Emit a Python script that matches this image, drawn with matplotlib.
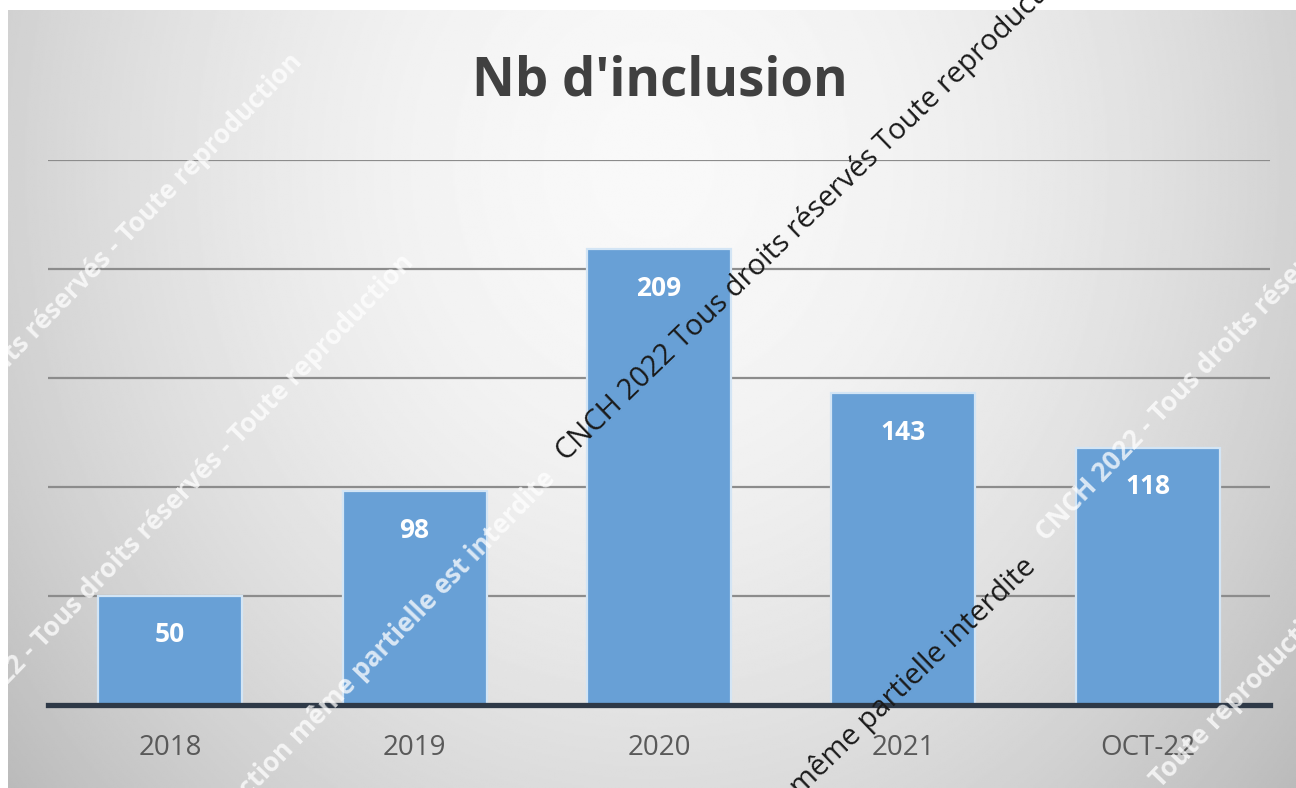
import numpy as np
import matplotlib
matplotlib.use("Agg")
import matplotlib.pyplot as plt

plt.rcParams['font.family'] = ['Open Sans', 'DejaVu Sans']

categories = ["2018", "2019", "2020", "2021", "OCT-22"]
inclusions = [50, 98, 209, 143, 118]
grid_values = [50, 100, 150, 200, 250]

W, H = 1296, 788
fig = plt.figure(figsize=(W / 100, H / 100), dpi=100)
fig.patch.set_facecolor("white")

# soft grey radial background behind the chart
bg = fig.add_axes([8 / W, 0, (W - 8) / W, (H - 10) / H], zorder=0)
yy, xx = np.mgrid[0:1:400j, 0:1:650j]
r = np.sqrt(((xx - 0.5) / 0.5) ** 2 + ((yy - 0.2) / 0.95) ** 2)
shade = np.clip(0.975 - 0.15 * r ** 1.8, 0, 1)
bg.imshow(shade, cmap="gray", vmin=0, vmax=1, aspect="auto",
          extent=[0, 1, 1, 0], interpolation="bilinear")
bg.axis("off")

ax = fig.add_axes([48 / W, (H - 705) / H, 1222 / W, 545 / H], zorder=1)
ax.patch.set_alpha(0)
x = np.arange(len(categories))

for g in grid_values:
    ax.axhline(g, color="#8c8c8c", lw=1.6, zorder=1)

ax.bar(x, inclusions, width=0.59, color="#68a0d6", edgecolor="#d3e5f5",
       linewidth=1.6, zorder=2)
ax.axhline(0, color="#2e3947", lw=3.8, zorder=3, clip_on=False)

for i, v in enumerate(inclusions):
    ax.annotate(str(v), (i, v), xytext=(0, -39), textcoords="offset pixels",
                ha="center", va="center", color="white", fontsize=19,
                fontweight="bold", zorder=4)

ax.set_xlim(-0.5, len(categories) - 0.5)
ax.set_ylim(0, 250)
ax.set_xticks(x, categories)
ax.set_yticks([])
ax.tick_params(axis="x", length=0, pad=21, labelsize=20, labelcolor="#595959")
for s in ax.spines.values():
    s.set_visible(False)

fig.text(660 / W, 1 - 82 / H, "Nb d'inclusion", ha="center", va="center",
         fontsize=38, fontweight="bold", color="#404040")


def mark(px, py, s, color, size, ha="left", alpha=1.0, weight="normal", angle=44):
    fig.text(px / W, 1 - py / H, s, rotation=angle, rotation_mode="anchor",
             ha=ha, va="baseline", color=color, alpha=alpha, fontsize=size,
             fontweight=weight, zorder=10)


# copyright marks across the chart
white = dict(color="white", size=19, alpha=0.75, weight="bold", angle=46)
mark(-22, 400, "droits réservés - Toute reproduction", **white)
mark(-14, 708, "2022 - Tous droits réservés - Toute reproduction", **white)
mark(556, 480, "Toute reproduction même partielle est interdite", ha="right", **white)
mark(1046, 542, "CNCH 2022 - Tous droits réservés", **white)
mark(1150, 800, "- Toute reproduction", **white)

mark(566, 462, "CNCH 2022 Tous droits réservés Toute reproduction", "#1a1a1a", 21)
mark(1037, 568, "même partielle interdite", "#1a1a1a", 21, ha="right")

fig.savefig("out.png", dpi=100)
